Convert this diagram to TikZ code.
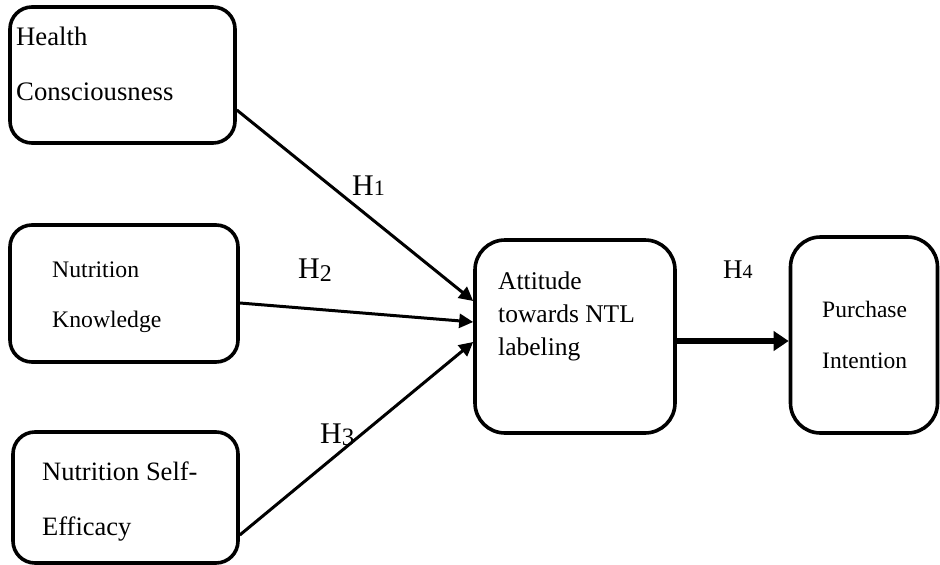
\documentclass[tikz,border=0pt]{standalone}
\usepackage{fontspec}
\setmainfont{Liberation Serif}
\usetikzlibrary{arrows.meta}
\begin{document}
\begin{tikzpicture}[x=1pt,y=-1pt,
  boxbase/.style={draw=black, line width=3.6pt, inner sep=0pt, fill=white},
  boxL/.style={boxbase, rounded corners=22pt},
  boxR/.style={boxbase, rounded corners=30pt},
  txt/.style={anchor=base west, inner sep=0pt, font=\fontsize{#1}{#1}\selectfont},
  hlab/.style={anchor=base west, inner sep=0pt, font=\fontsize{30}{30}\selectfont},
  conn/.style={line width=3pt, -{Triangle[length=14pt,width=14pt]}},
  bigconn/.style={line width=5.5pt, -{Triangle[length=15pt,width=19pt]}}
]
\useasboundingbox (0,0) rectangle (940,565);

% boxes
\node[boxL, minimum width=225pt, minimum height=136pt] (b1) at (122.5,75) {};
\node[boxL, minimum width=228pt, minimum height=137pt] (b2) at (124,293.5) {};
\node[boxL, minimum width=225pt, minimum height=131pt] (b3) at (125.5,497.5) {};
\node[boxR, minimum width=200pt, minimum height=193pt] (b4) at (575,336.5) {};
\node[boxR, minimum width=147pt, minimum height=196pt] (b5) at (864,335) {};

% texts
\node[txt=26.7] (t1a) at (16,45) {Health};
\node[txt=26.7] (t1b) at (16,100) {Consciousness};
\node[txt=23.7] (t2a) at (52,277) {Nutrition};
\node[txt=23.7] (t2b) at (52,327) {Knowledge};
\node[txt=26.5] (t3a) at (42,480) {Nutrition Self-};
\node[txt=26.5] (t3b) at (42,535) {Efficacy};
\node[txt=25.5] (t4a) at (498,289) {Attitude};
\node[txt=25.5] (t4b) at (498,322) {towards NTL};
\node[txt=25.5] (t4c) at (498,355) {labeling};
\node[txt=23.5] (t5a) at (822,317) {Purchase};
\node[txt=23.5] (t5b) at (822,368) {Intention};

% connectors
\draw[conn] ([yshift=-35pt]b1.east) -- ([yshift=35.5pt]b4.west);
\draw[conn] ([yshift=-9.5pt]b2.east) -- ([yshift=14.5pt]b4.west);
\draw[conn] ([yshift=-37.5pt]b3.east) -- ([yshift=-5.5pt]b4.west);
\draw[bigconn] ([yshift=-4.5pt]b4.east) -- ([yshift=-6pt]b5.west);

% hypothesis labels
\node[hlab] (h1) at (352,195) {H{\fontsize{22}{22}\selectfont 1}};
\node[hlab] (h2) at (298,278) {H\raisebox{-3pt}{\fontsize{24}{24}\selectfont 2}};
\node[hlab] (h3) at (320,443) {H\raisebox{-2pt}{\fontsize{25}{25}\selectfont 3}};
\node[hlab, font=\fontsize{27}{27}\selectfont] (h4) at (723,278) {H{\fontsize{20}{20}\selectfont 4}};
\end{tikzpicture}
\end{document}
